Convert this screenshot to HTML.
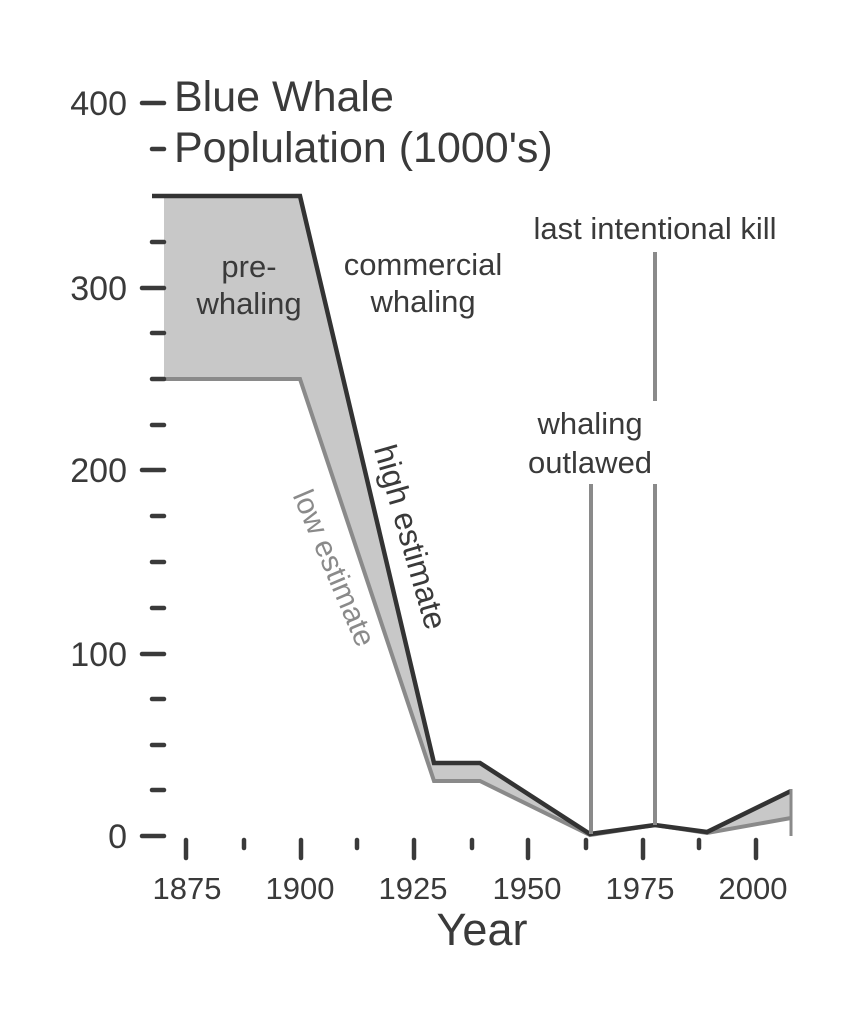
<!DOCTYPE html>
<html><head><meta charset="utf-8"><style>
html,body{margin:0;padding:0;background:#fff;}
svg{display:block;}
text{font-family:"Liberation Sans",Arial,sans-serif;fill:#3a3a3a;}
</style></head><body>
<svg width="862" height="1024" viewBox="0 0 862 1024">
<polygon points="164,196 300,196 434,763 480,763 590,834 655,825 707,832 791,791 791,818 707,833 655,825 590,835 480,781 434,781 300,379 164,379" fill="#c8c8c8"/>
<polyline points="164,379 300,379 434,781 480,781 590,835 655,825 707,833 791,818" fill="none" stroke="#8a8a8a" stroke-width="4"/>
<polyline points="152,196 300,196 434,763 480,763 590,834 655,825 707,832 791,791" fill="none" stroke="#333" stroke-width="4.5"/>
<line x1="791" y1="789" x2="791" y2="836" stroke="#8a8a8a" stroke-width="3"/>
<line x1="591" y1="484" x2="591" y2="834" stroke="#8a8a8a" stroke-width="4"/>
<line x1="655" y1="252" x2="655" y2="401" stroke="#8a8a8a" stroke-width="4"/>
<line x1="655" y1="484" x2="655" y2="825" stroke="#8a8a8a" stroke-width="4"/>
<g stroke="#3a3a3a" stroke-width="4.5" stroke-linecap="round">
<line x1="142" y1="103" x2="164" y2="103"/>
<line x1="152" y1="149" x2="164" y2="149"/>
<line x1="152" y1="242" x2="164" y2="242"/>
<line x1="142" y1="288" x2="164" y2="288"/>
<line x1="152" y1="333" x2="164" y2="333"/>
<line x1="152" y1="379" x2="164" y2="379"/>
<line x1="152" y1="425" x2="164" y2="425"/>
<line x1="142" y1="470" x2="164" y2="470"/>
<line x1="152" y1="516" x2="164" y2="516"/>
<line x1="152" y1="562" x2="164" y2="562"/>
<line x1="152" y1="608" x2="164" y2="608"/>
<line x1="142" y1="654" x2="164" y2="654"/>
<line x1="152" y1="699" x2="164" y2="699"/>
<line x1="152" y1="745" x2="164" y2="745"/>
<line x1="152" y1="790" x2="164" y2="790"/>
<line x1="142" y1="836" x2="164" y2="836"/>
</g>
<g stroke="#3a3a3a" stroke-width="4.5" stroke-linecap="round">
<line x1="186" y1="840" x2="186" y2="858"/>
<line x1="244" y1="840" x2="244" y2="848"/>
<line x1="301" y1="840" x2="301" y2="858"/>
<line x1="357" y1="840" x2="357" y2="848"/>
<line x1="414" y1="840" x2="414" y2="858"/>
<line x1="472" y1="840" x2="472" y2="848"/>
<line x1="528" y1="840" x2="528" y2="858"/>
<line x1="586" y1="840" x2="586" y2="848"/>
<line x1="643" y1="840" x2="643" y2="858"/>
<line x1="699" y1="840" x2="699" y2="848"/>
<line x1="756" y1="840" x2="756" y2="858"/>
</g>
<g font-size="34" text-anchor="end">
<text x="127" y="115">400</text>
<text x="127" y="300">300</text>
<text x="127" y="482">200</text>
<text x="127" y="666">100</text>
<text x="127" y="848">0</text>
</g>
<g font-size="31" text-anchor="middle">
<text x="187" y="899">1875</text>
<text x="300" y="899">1900</text>
<text x="413" y="899">1925</text>
<text x="527" y="899">1950</text>
<text x="640" y="899">1975</text>
<text x="753" y="899">2000</text>
</g>
<text x="482" y="945" font-size="45" text-anchor="middle">Year</text>
<text x="174" y="111" font-size="43">Blue Whale</text>
<text x="174" y="162" font-size="43">Poplulation (1000's)</text>
<g font-size="31" text-anchor="middle">
<text x="249" y="277">pre-</text>
<text x="249" y="314">whaling</text>
<text x="423" y="275">commercial</text>
<text x="423" y="312">whaling</text>
<text x="655" y="239">last intentional kill</text>
<text x="590" y="434">whaling</text>
<text x="590" y="473">outlawed</text>
</g>
<text font-size="32" text-anchor="middle" transform="translate(400,540) rotate(74)">high estimate</text>
<text font-size="30" text-anchor="middle" style="fill:#8a8a8a" transform="translate(325,572) rotate(67)">low estimate</text>
</svg>
</body></html>
